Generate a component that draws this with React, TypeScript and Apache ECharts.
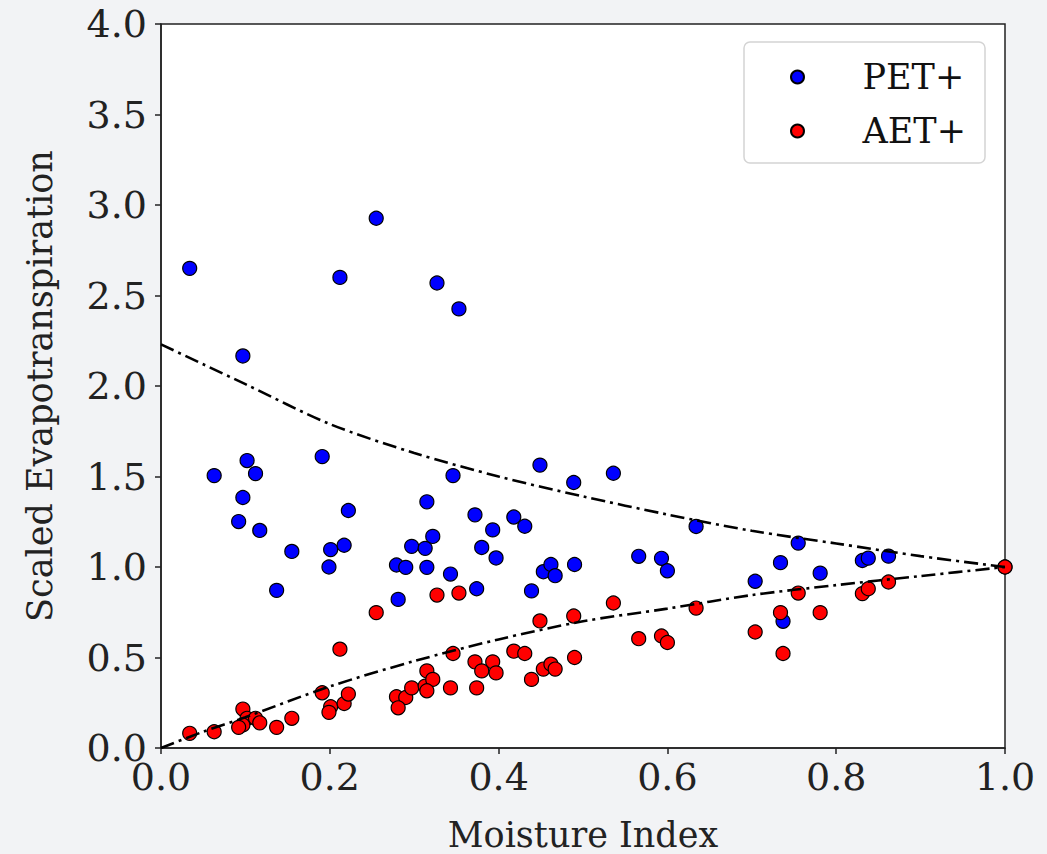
import React, { useEffect, useRef } from "react";
import * as echarts from "echarts";

// Site values (moisture index, scaled PET+, scaled AET+)
const MOISTURE = [
  0.034, 0.063, 0.097, 0.102, 0.097, 0.112, 0.092, 0.117, 0.137, 0.155,
  0.191, 0.201, 0.199, 0.212, 0.217, 0.222, 0.255, 0.279, 0.290, 0.281,
  0.297, 0.313, 0.315, 0.322, 0.315, 0.327, 0.343, 0.346, 0.353, 0.372,
  0.374, 0.380, 0.393, 0.397, 0.418, 0.431, 0.439, 0.449, 0.453, 0.462,
  0.467, 0.489, 0.490, 0.536, 0.566, 0.593, 0.600, 0.634, 0.704, 0.734,
  0.737, 0.755, 0.781, 0.831, 0.838, 0.862, 1.0,
];
const PET = [
  2.65, 1.505, 2.166, 1.588, 1.384, 1.516, 1.251, 1.202, 0.871, 1.086,
  1.61, 1.096, 1.0, 2.6, 1.12, 1.312, 2.927, 1.011, 0.998, 0.821,
  1.114, 1.103, 1.36, 1.169, 0.998, 2.569, 0.961, 1.505, 2.426, 1.288,
  0.88, 1.108, 1.205, 1.05, 1.276, 1.225, 0.868, 1.563, 0.974, 1.014,
  0.952, 1.467, 1.014, 1.518, 1.059, 1.048, 0.979, 1.224, 0.921, 1.024,
  0.7, 1.132, 0.966, 1.036, 1.049, 1.06, 1.0,
];
const AET = [
  0.081, 0.09, 0.215, 0.164, 0.127, 0.164, 0.114, 0.139, 0.114, 0.164,
  0.305, 0.228, 0.197, 0.546, 0.246, 0.298, 0.748, 0.283, 0.279, 0.222,
  0.332, 0.342, 0.426, 0.379, 0.316, 0.845, 0.332, 0.522, 0.856, 0.476,
  0.332, 0.426, 0.476, 0.415, 0.535, 0.522, 0.379, 0.702, 0.436, 0.463,
  0.436, 0.729, 0.5, 0.801, 0.604, 0.619, 0.583, 0.773, 0.641, 0.748,
  0.522, 0.856, 0.748, 0.853, 0.88, 0.917, 1.0,
];

// Reference curves
const CURVE_X = [0, 0.05, 0.1, 0.2, 0.3, 0.4, 0.5, 0.6, 0.7, 0.8, 0.9, 1.0];
const PET_CURVE = [2.23, 2.12, 2.01, 1.79, 1.63, 1.5, 1.39, 1.29, 1.2, 1.13, 1.06, 1.0];
const AET_CURVE = [0, 0.09, 0.17, 0.34, 0.48, 0.6, 0.7, 0.77, 0.845, 0.9, 0.95, 1.0];

const SERIES_NAMES = ["PET+", "AET+"];
const X_LABEL = "Moisture Index";
const Y_LABEL = "Scaled Evapotranspiration";

export default function App() {
  const ref = useRef<HTMLDivElement>(null);
  useEffect(() => {
    const chart = echarts.init(ref.current!, null, { renderer: "svg" });
    const serif = "'DejaVu Serif', serif";
    const axisCommon = {
      type: "value",
      axisLine: { show: true, lineStyle: { color: "#222", width: 1.5 } },
      axisTick: { show: true, length: 6, lineStyle: { color: "#222", width: 1.5 } },
      splitLine: { show: false },
    };
    const curveStyle = { color: "#000", width: 2.6, type: [14, 5, 3, 5] };
    chart.setOption({
      animation: false,
      backgroundColor: "transparent",
      grid: {
        left: 161,
        top: 24,
        right: 42,
        bottom: 106,
        show: true,
        backgroundColor: "#ffffff",
        borderColor: "#222",
        borderWidth: 1.5,
      },
      xAxis: {
        ...axisCommon,
        min: 0,
        max: 1,
        interval: 0.2,
        axisLabel: {
          formatter: (v: number) => v.toFixed(1),
          fontFamily: serif,
          fontSize: 38,
          color: "#222",
          margin: 10,
        },
      },
      yAxis: {
        ...axisCommon,
        min: 0,
        max: 4,
        interval: 0.5,
        axisLabel: {
          formatter: (v: number) => v.toFixed(1),
          fontFamily: serif,
          fontSize: 38,
          color: "#222",
          margin: 14,
        },
      },
      legend: {
        data: SERIES_NAMES,
        orient: "vertical",
        left: 785,
        top: 52,
        itemWidth: 120,
        itemHeight: 13,
        itemGap: 14,
        icon: "circle",
        z: 10,
        textStyle: { fontFamily: serif, fontSize: 35, color: "#111", lineHeight: 40 },
      },
      graphic: [
        {
          type: "rect",
          z: 5,
          shape: { x: 744, y: 42, width: 241, height: 121, r: 6 },
          style: { fill: "#ffffff", stroke: "#d4d4d4", lineWidth: 1.5 },
        },
        {
          type: "text",
          x: 583,
          y: 835,
          style: {
            text: X_LABEL,
            fontFamily: serif,
            fontSize: 35,
            lineHeight: 30,
            fill: "#222",
            align: "center",
            verticalAlign: "middle",
          },
        },
        {
          type: "text",
          x: 40,
          y: 386,
          rotation: Math.PI / 2,
          style: {
            text: Y_LABEL,
            fontFamily: serif,
            fontSize: 35,
            fill: "#222",
            align: "center",
            verticalAlign: "middle",
          },
        },
      ],
      series: [
        {
          name: SERIES_NAMES[0],
          type: "scatter",
          data: MOISTURE.map((x, i) => [x, PET[i]]),
          symbolSize: 14,
          itemStyle: { color: "#0000ff", borderColor: "#000", borderWidth: 1.2, opacity: 1 },
          z: 2,
        },
        {
          name: SERIES_NAMES[1],
          type: "scatter",
          data: MOISTURE.map((x, i) => [x, AET[i]]),
          symbolSize: 14,
          itemStyle: { color: "#ff0000", borderColor: "#000", borderWidth: 1.2, opacity: 1 },
          z: 2,
        },
        {
          name: "PET curve",
          type: "line",
          data: CURVE_X.map((x, i) => [x, PET_CURVE[i]]),
          showSymbol: false,
          symbol: "none",
          smooth: 0.3,
          silent: true,
          lineStyle: curveStyle,
          z: 3,
        },
        {
          name: "AET curve",
          type: "line",
          data: CURVE_X.map((x, i) => [x, AET_CURVE[i]]),
          showSymbol: false,
          symbol: "none",
          smooth: 0.3,
          silent: true,
          lineStyle: curveStyle,
          z: 3,
        },
      ],
    });
    return () => chart.dispose();
  }, []);
  return (
    <div
      ref={ref}
      style={{
        position: "absolute",
        left: 0,
        top: 0,
        width: 1047,
        height: 854,
        background: "#f2f3f5",
      }}
    />
  );
}
